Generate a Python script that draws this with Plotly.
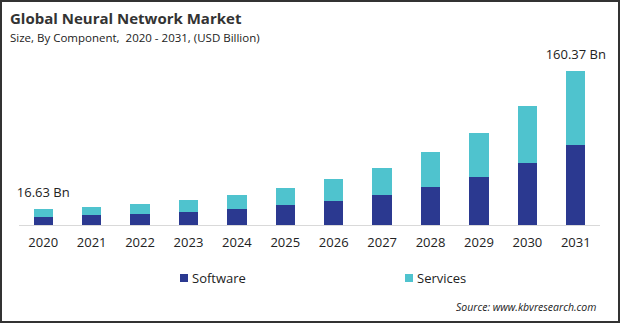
import plotly.graph_objects as go

# Global neural network market by component (USD Billion)
years = ["2020", "2021", "2022", "2023", "2024", "2025",
         "2026", "2027", "2028", "2029", "2030", "2031"]
software = [8.3, 10.7, 11.8, 13.5, 16.7, 20.8, 25.0, 31.2, 39.6, 50.0, 64.6, 83.3]
services = [8.33, 8.0, 10.1, 12.5, 14.5, 17.7, 22.9, 28.5, 36.4, 45.8, 59.3, 77.07]
labelled_years = ["2020", "2031"]

SOFTWARE_COLOR = "#2B3990"
SERVICES_COLOR = "#4FC3CE"
FONT = "Open Sans"
W, H = 620, 323


def px(x):
    return x / W


def py(y):
    return (H - y) / H


fig = go.Figure()
fig.add_trace(go.Bar(x=years, y=software, name="Software",
                     marker=dict(color=SOFTWARE_COLOR, line=dict(width=0))))
fig.add_trace(go.Bar(x=years, y=services, name="Services",
                     marker=dict(color=SERVICES_COLOR, line=dict(width=0))))

# total labels above the first and last stacks
label_x, label_y, label_text = [], [], []
for yr in labelled_years:
    i = years.index(yr)
    total = software[i] + services[i]
    label_x.append(yr)
    label_y.append(total)
    label_text.append(f"{total:.2f} Bn")
fig.add_trace(go.Scatter(x=label_x, y=label_y, text=label_text, mode="markers+text",
                         marker=dict(size=12, color="rgba(0,0,0,0)"),
                         textposition="top center", cliponaxis=False,
                         textfont=dict(family=FONT, size=13, color="#222222"),
                         hoverinfo="skip"))

annotations = [
    dict(text="<b>Global Neural Network Market</b>", x=px(8), y=py(18),
         xref="paper", yref="paper", xanchor="left", yanchor="middle",
         showarrow=False, font=dict(family=FONT, size=15, color="#333333")),
    dict(text="Size, By Component,  2020 - 2031, (USD Billion)", x=px(8), y=py(37),
         xref="paper", yref="paper", xanchor="left", yanchor="middle",
         showarrow=False, font=dict(family=FONT, size=11.5, color="#222222")),
    dict(text="<i>Source: www.kbvresearch.com</i>", x=px(598), y=py(307),
         xref="paper", yref="paper", xanchor="right", yanchor="middle",
         showarrow=False, font=dict(family=FONT, size=10.5, color="#222222")),
]

# legend keys and labels
shapes = []
for name, color, x0 in [("Software", SOFTWARE_COLOR, 180), ("Services", SERVICES_COLOR, 405)]:
    shapes.append(dict(type="rect", xref="paper", yref="paper",
                       x0=px(x0), x1=px(x0 + 8), y0=py(282), y1=py(274),
                       fillcolor=color, line=dict(width=0)))
    annotations.append(dict(text=name, x=px(x0 + 10), y=py(278), xref="paper", yref="paper",
                            xanchor="left", yanchor="middle", showarrow=False,
                            font=dict(family=FONT, size=13, color="#222222")))

# frame around the whole figure
shapes.append(dict(type="rect", xref="paper", yref="paper", x0=0, y0=0, x1=1, y1=1,
                   line=dict(color="#333333", width=4), fillcolor="rgba(0,0,0,0)"))

fig.update_layout(
    width=W, height=H,
    margin=dict(l=0, r=0, t=0, b=0),
    paper_bgcolor="white", plot_bgcolor="white",
    barmode="stack", bargap=0.6,
    showlegend=False,
    font=dict(family=FONT, color="#222222"),
    xaxis=dict(domain=[px(19), px(600)], type="category", range=[-0.5, 11.5],
               showline=True, linecolor="#d9d9d9", linewidth=1,
               showgrid=False, zeroline=False,
               ticks="outside", ticklen=5, tickcolor="rgba(0,0,0,0)",
               tickfont=dict(family=FONT, size=13, color="#222222")),
    yaxis=dict(domain=[py(225), py(60)], range=[0, 171.86], visible=False,
               showgrid=False, zeroline=False),
    annotations=annotations,
    shapes=shapes,
)

fig.write_html("out.html")
